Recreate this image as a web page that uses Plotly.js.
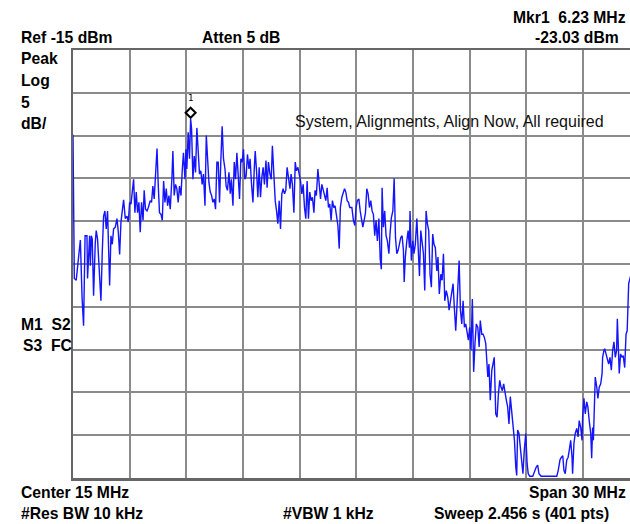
<!DOCTYPE html>
<html>
<head>
<meta charset="utf-8">
<script src="https://cdn.plot.ly/plotly-3.0.1.min.js"></script>
<style>
html,body{margin:0;padding:0;background:#fff;overflow:hidden;}
#chart{width:630px;height:524px;}
</style>
</head>
<body>
<div id="chart"></div>
<script>
// Sweep: Center 15 MHz, Span 30 MHz, Ref -15 dBm, 5 dB/div
const freqMHz = [
0.00,0.07,0.17,0.28,0.39,0.48,0.56,0.64,0.74,0.77,0.88,0.92,0.97,1.02,1.09,1.18,1.23,1.30,1.38,1.48,
1.55,1.62,1.69,1.76,1.83,1.94,2.01,2.08,2.15,2.24,2.33,2.40,2.47,2.54,2.61,2.68,2.77,2.86,2.93,3.00,
3.07,3.14,3.21,3.28,3.35,3.42,3.49,3.56,3.63,3.71,3.77,3.84,3.92,3.99,4.09,4.16,4.23,4.30,4.37,4.45,
4.51,4.58,4.66,4.73,
4.80,4.87,4.94,5.01,5.08,5.15,5.24,5.29,5.36,5.43,5.50,5.57,5.64,5.72,5.79,5.85,5.93,5.98,6.03,6.10,
6.17,6.23,6.28,6.35,6.42,6.49,6.56,6.63,6.70,6.77,6.84,6.91,6.99,7.06,7.12,7.20,7.27,7.34,7.41,7.48,
7.55,7.62,7.69,7.76,7.83,7.90,7.97,8.05,8.11,8.18,8.26,8.33,8.39,8.47,8.54,8.61,8.68,8.75,8.82,8.89,
8.96,9.03,9.10,9.17,9.24,9.32,9.38,9.45,9.53,9.60,
9.65,9.72,9.79,9.86,9.93,10.00,10.07,10.14,10.22,10.28,10.35,10.43,10.50,10.56,10.64,10.71,10.78,10.85,10.92,10.99,
11.06,11.13,11.20,11.27,11.34,11.41,11.49,11.55,11.62,11.70,11.77,11.83,11.91,11.98,12.05,12.12,12.19,12.26,12.33,12.40,
12.47,12.54,12.61,12.68,12.76,12.82,12.89,12.97,13.04,13.11,13.18,13.25,13.32,13.39,13.46,13.53,13.60,13.67,13.74,13.81,
13.88,13.95,14.03,14.10,14.16,14.24,14.31,14.38,14.45,14.52,14.59,14.66,
14.77,14.85,14.93,14.99,15.06,15.14,15.21,15.28,15.35,15.42,15.49,15.56,15.63,15.70,15.77,15.84,15.91,15.98,16.05,16.12,
16.20,16.27,16.33,16.37,16.44,16.51,16.58,16.65,16.73,16.79,16.86,16.94,17.01,17.08,17.15,17.22,17.29,17.36,17.43,17.50,
17.54,17.60,17.68,17.75,17.82,17.85,17.92,18.00,18.06,18.13,18.21,18.28,18.35,18.42,18.49,18.56,18.63,18.70,18.77,18.84,
18.91,18.98,19.05,19.12,19.19,19.27,19.33,19.40,19.48,19.55,19.62,19.69,
19.77,19.85,19.92,19.99,20.06,20.13,20.20,20.27,20.34,20.41,20.45,20.52,20.59,20.66,20.73,20.80,20.87,20.94,21.01,21.08,
21.15,21.22,21.29,21.36,21.44,21.51,21.57,21.65,21.72,21.79,21.86,21.93,21.97,22.03,22.10,22.18,22.25,22.31,22.39,22.46,
22.53,22.60,22.67,22.74,22.81,22.88,22.95,23.02,23.09,23.16,23.24,23.31,23.38,23.45,23.50,23.55,23.62,23.69,23.77,23.83,
23.90,23.98,24.05,24.11,24.19,24.35,24.54,24.61,24.68,
24.79,25.16,25.62,25.70,25.79,25.86,25.94,26.00,26.07,26.15,26.22,26.28,26.36,26.43,26.46,26.53,26.60,26.68,26.75,26.81,
26.89,26.96,26.99,27.06,27.13,27.21,27.27,27.34,27.42,27.47,27.52,27.56,27.59,27.66,27.74,27.80,27.87,27.95,28.02,28.05,
28.12,28.16,28.23,28.30,28.37,28.44,28.51,28.58,28.65,28.72,28.79,28.83,28.90,28.93,29.00,29.07,29.14,29.22,29.29,29.35,
29.43,29.60
];
const levelDbm = [
-24.9,-41.7,-41.9,-39.8,-37.2,-43.9,-47.2,-36.7,-36.7,-41.7,-36.7,-40.2,-36.7,-37.1,-43.7,-37.5,-36.1,-37.1,-40.6,-44.3,
-38.6,-34.4,-33.8,-35.9,-33.8,-42.5,-36.7,-37.7,-35.9,-35.7,-34.7,-36.3,-38.9,-35.1,-33.8,-32.5,-34.7,-34.4,-35.1,-32.8,
-33.0,-31.6,-30.1,-34.0,-31.6,-34.0,-32.8,-36.3,-32.8,-34.9,-31.4,-33.6,-33.8,-33.4,-32.6,-32.8,-30.9,-32.4,-29.5,-26.5,
-30.5,-34.0,-34.2,-34.9,
-30.3,-32.8,-31.2,-33.2,-32.0,-33.6,-29.9,-26.8,-32.0,-30.7,-31.2,-32.8,-30.9,-32.0,-28.9,-27.0,-30.1,-26.6,-28.9,-24.6,
-27.7,-23.03,-24.2,-30.1,-27.4,-29.3,-24.1,-27.4,-29.5,-29.1,-30.7,-29.5,-33.2,-25.0,-28.1,-30.5,-31.6,-32.0,-32.8,-32.4,
-33.6,-28.1,-28.1,-32.8,-27.9,-23.9,-27.7,-28.9,-30.9,-31.4,-29.3,-31.8,-30.1,-33.2,-28.1,-30.1,-27.0,-30.5,-32.4,-27.7,
-28.1,-26.6,-30.1,-29.7,-27.2,-28.9,-27.7,-30.5,-32.8,-28.9,
-26.8,-29.1,-32.2,-28.7,-32.2,-29.9,-28.7,-30.7,-27.9,-31.1,-28.1,-29.5,-30.1,-26.2,-30.3,-32.6,-33.8,-35.3,-32.6,-35.9,
-31.8,-31.2,-31.8,-31.4,-28.7,-30.1,-31.2,-29.5,-30.7,-34.0,-28.1,-29.1,-28.7,-29.5,-30.3,-31.8,-30.7,-33.4,-34.7,-30.3,
-34.7,-31.6,-32.6,-32.2,-34.0,-31.4,-32.0,-28.9,-31.1,-32.4,-30.7,-31.4,-32.2,-32.6,-31.1,-33.4,-33.0,-34.9,-32.6,-33.4,
-33.2,-34.2,-35.5,-38.2,-33.4,-32.2,-31.6,-31.2,-31.6,-32.6,-32.8,-33.4,
-33.4,-34.9,-35.5,-33.4,-32.6,-32.4,-33.8,-34.9,-35.7,-34.9,-34.0,-31.2,-31.8,-33.4,-32.6,-33.8,-34.2,-36.7,-34.9,-37.3,
-34.7,-39.4,-40.6,-31.1,-35.7,-33.8,-36.7,-37.3,-38.8,-36.5,-34.6,-33.8,-30.0,-36.9,-38.8,-38.4,-37.7,-36.9,-36.7,-38.4,
-42.1,-39.2,-37.3,-36.1,-38.1,-33.8,-39.6,-37.3,-38.8,-37.7,-34.7,-38.1,-41.4,-36.1,-37.3,-38.8,-43.1,-33.8,-35.3,-36.1,
-41.2,-42.7,-36.5,-37.7,-38.1,-40.8,-39.2,-43.5,-41.2,-41.9,-38.8,-44.3,
-43.1,-43.9,-45.4,-44.3,-43.5,-42.3,-45.2,-47.8,-44.7,-42.3,-39.6,-45.4,-47.0,-44.3,-47.4,-47.0,-47.8,-48.9,-47.4,-50.1,
-44.1,-52.6,-49.3,-47.0,-47.4,-49.7,-46.6,-48.2,-48.2,-48.6,-49.3,-51.3,-53.2,-51.7,-55.9,-52.4,-51.3,-50.9,-57.5,-57.9,
-55.2,-53.6,-54.4,-54.8,-54.0,-55.2,-55.9,-56.7,-58.7,-55.5,-57.1,-59.1,-60.6,-63.7,-64.7,-59.4,-59.8,-61.4,-62.9,-64.5,
-61.8,-59.8,-63.3,-64.5,-64.8,-64.8,-63.7,-63.5,-64.5,
-64.8,-64.8,-64.8,-64.1,-62.9,-62.6,-62.4,-64.1,-64.5,-62.9,-62.6,-61.8,-60.6,-62.6,-64.5,-61.0,-59.8,-59.2,-60.2,-58.3,
-59.1,-60.6,-57.9,-55.7,-57.5,-56.1,-56.7,-58.3,-59.8,-62.7,-59.1,-60.6,-57.5,-53.2,-54.4,-55.7,-54.4,-54.0,-52.8,-50.9,
-50.1,-49.9,-50.5,-51.3,-51.7,-50.9,-52.4,-50.1,-49.1,-50.9,-50.1,-46.4,-50.9,-52.8,-50.5,-50.9,-50.7,-52.1,-48.2,-47.8,
-42.3,-40.8
];
const mkrFreq = 6.23;
const mkrLevel = -23.03;
const refLevel = -15;
const dbPerDiv = 5;
const divisions = 10;
const spanMHz = 30;

const headerLabels = ["Mkr1\u00a0 6.23 MHz", "Ref -15 dBm", "Atten 5 dB", "-23.03 dBm"];
const sideLabels = ["Peak", "Log", "5", "dB/", "M1\u00a0 S2", "S3\u00a0 FC"];
const footerLabels = ["Center 15 MHz", "Span 30 MHz", "#Res BW 10 kHz", "#VBW 1 kHz", "Sweep 2.456 s (401 pts)"];
const messageText = "System, Alignments, Align Now, All required";

const boldFont = {family: "Liberation Sans, Arial, sans-serif", size: 15.7, color: "#000", weight: "bold"};
const regFont = {family: "Liberation Sans, Arial, sans-serif", size: 16, color: "#111"};

function lab(text, x, y, xanchor, font) {
  return {text: text, xref: "paper", yref: "paper", x: x, y: y, xanchor: xanchor, yanchor: "middle",
          showarrow: false, font: font};
}

const annotations = [
  lab(headerLabels[0], 0.9973, 1.0771, "right", boldFont),
  lab(headerLabels[1], -0.0970, 1.0292, "left", boldFont),
  lab(headerLabels[2], 0.2280, 1.0292, "left", boldFont),
  lab(headerLabels[3], 0.9838, 1.0292, "right", boldFont),
  lab(sideLabels[0], -0.0970, 0.9794, "left", boldFont),
  lab(sideLabels[1], -0.0970, 0.9280, "left", boldFont),
  lab(sideLabels[2], -0.0970, 0.8773, "left", boldFont),
  lab(sideLabels[3], -0.0970, 0.8287, "left", boldFont),
  lab(sideLabels[4], -0.0970, 0.3575, "left", boldFont),
  lab(sideLabels[5], -0.0935, 0.3089, "left", boldFont),
  lab(messageText, 0.3950, 0.8336, "left", regFont),
  lab(footerLabels[0], -0.0970, -0.0339, "left", boldFont),
  lab(footerLabels[1], 0.9973, -0.0339, "right", boldFont),
  lab(footerLabels[2], -0.0970, -0.0829, "left", boldFont),
  lab(footerLabels[3], 0.3734, -0.0829, "left", boldFont),
  lab(footerLabels[4], 0.6440, -0.0829, "left", boldFont),
  {text: "1", xref: "x", yref: "y", x: mkrFreq, y: mkrLevel, yshift: 21, showarrow: false,
   font: {family: "DejaVu Sans Mono, monospace", size: 9, color: "#000"}}
];

const trace = {
  x: freqMHz, y: levelDbm, type: "scatter", mode: "lines",
  line: {color: "rgb(20,20,255)", width: 1.4},
  hoverinfo: "skip"
};

const layout = {
  width: 630, height: 524,
  margin: {l: 73, r: 0, t: 50, b: 46, pad: 0},
  paper_bgcolor: "#fff", plot_bgcolor: "#fff",
  showlegend: false,
  xaxis: {
    range: [0, 29.5], dtick: spanMHz / divisions, tick0: 0,
    showgrid: true, gridcolor: "#8a8a8a", gridwidth: 2,
    zeroline: false, showticklabels: false, ticks: "",
    showline: true, mirror: true, linecolor: "#666", linewidth: 2.5, fixedrange: true
  },
  yaxis: {
    range: [refLevel - dbPerDiv * divisions, refLevel], dtick: dbPerDiv, tick0: refLevel,
    showgrid: true, gridcolor: "#8a8a8a", gridwidth: 2,
    zeroline: false, showticklabels: false, ticks: "",
    showline: true, mirror: false, linecolor: "#666", linewidth: 2.5, fixedrange: true
  },
  shapes: [{
    type: "path", xref: "x", yref: "y", xsizemode: "pixel", ysizemode: "pixel",
    xanchor: mkrFreq, yanchor: mkrLevel,
    path: "M0,1 L5,6 L0,11 L-5,6 Z",
    line: {color: "#000", width: 2}, fillcolor: "#fff", layer: "above"
  }],
  annotations: annotations
};

Plotly.newPlot("chart", [trace], layout, {displayModeBar: false, staticPlot: true});
</script>
</body>
</html>
